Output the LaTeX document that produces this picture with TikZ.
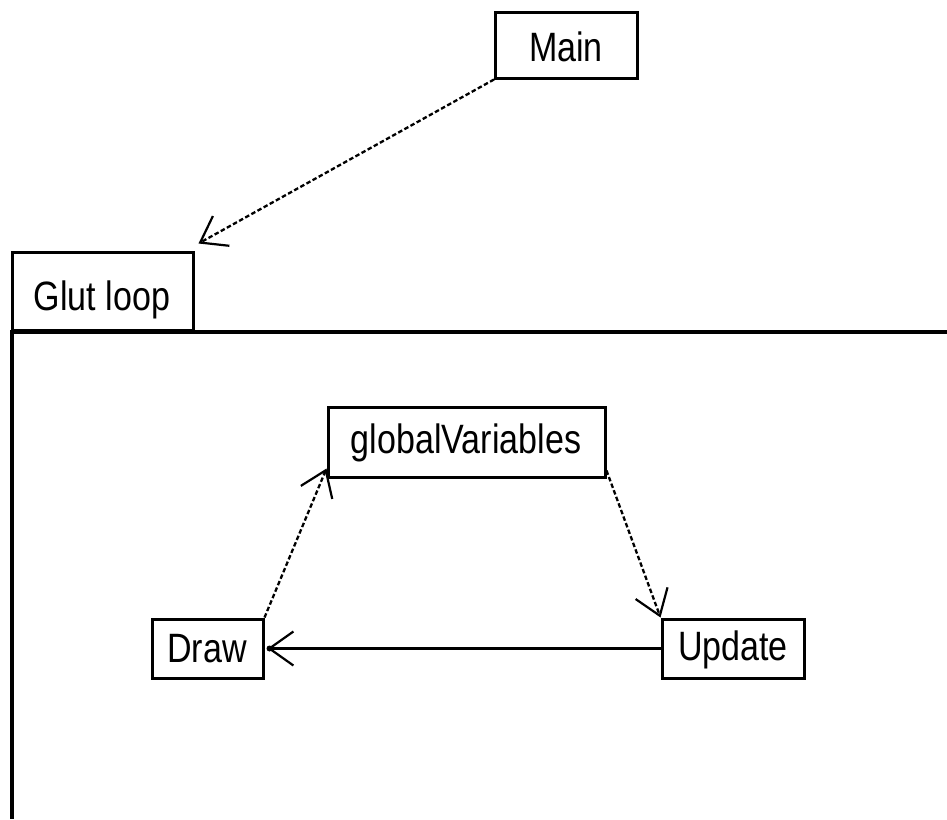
\documentclass[tikz,border=0pt]{standalone}
\usepackage{fontspec}
\setmainfont{Liberation Sans}
\usetikzlibrary{arrows.meta}
\newcommand{\lbl}[1]{\scalebox{0.83}[1]{\fontsize{41}{41}\selectfont #1}}
\tikzset{
  box/.style={draw=black, line width=3pt, fill=white, inner sep=0pt, anchor=center},
  dep/.style={draw=black, line width=2.3pt, dash pattern=on 4.5pt off 2.5pt,
    -{Straight Barb[length=24pt, width=34pt, line width=2.2pt]}},
  flow/.style={draw=black, line width=2.2pt,
    -{Straight Barb[length=24pt, width=34pt, line width=2.2pt]}},
}
\begin{document}
\begin{tikzpicture}[x=1pt, y=-1pt]
\useasboundingbox (0,0) rectangle (947,819);
\fill[white] (0,0) rectangle (947,819);

% frame of the loop
\draw[line width=4pt] (12,332) -- (947,332);
\draw[line width=4pt] (12,330) -- (12,819);
\node[box, minimum width=181pt, minimum height=78pt] (glut) at (102.5,291) {};
\node at (102,300) {\lbl{Glut loop}};

% boxes
\node[box, minimum width=142pt, minimum height=66pt] (main) at (566.5,45) {};
\node at (566,47) {\lbl{Main}};
\node[box, minimum width=277pt, minimum height=70pt] (gv) at (466.5,442) {};
\node at (466,443) {\lbl{globalVariables}};
\node[box, minimum width=111pt, minimum height=59pt] (draw) at (207.5,648.5) {};
\node at (207,649) {\lbl{Draw}};
\node[box, minimum width=142pt, minimum height=59pt] (upd) at (733,648.5) {};
\node at (733,650) {\lbl{Update}};

% connectors
\coordinate (glutIn) at ([shift={(4,-7)}]glut.north east);
\draw[dep] (main.south west) -- (glutIn);
\coordinate (gvIn) at ([shift={(0,-10)}]gv.south west);
\draw[dep] (draw.north east) -- (gvIn);
\coordinate (gvOut) at ([shift={(0,-8)}]gv.south east);
\draw[dep] (gvOut) -- (upd.north west);
\draw[flow] (upd.west) -- ([xshift=3pt]draw.east);
\fill ([xshift=5pt]draw.east) circle (3pt);
\end{tikzpicture}
\end{document}
